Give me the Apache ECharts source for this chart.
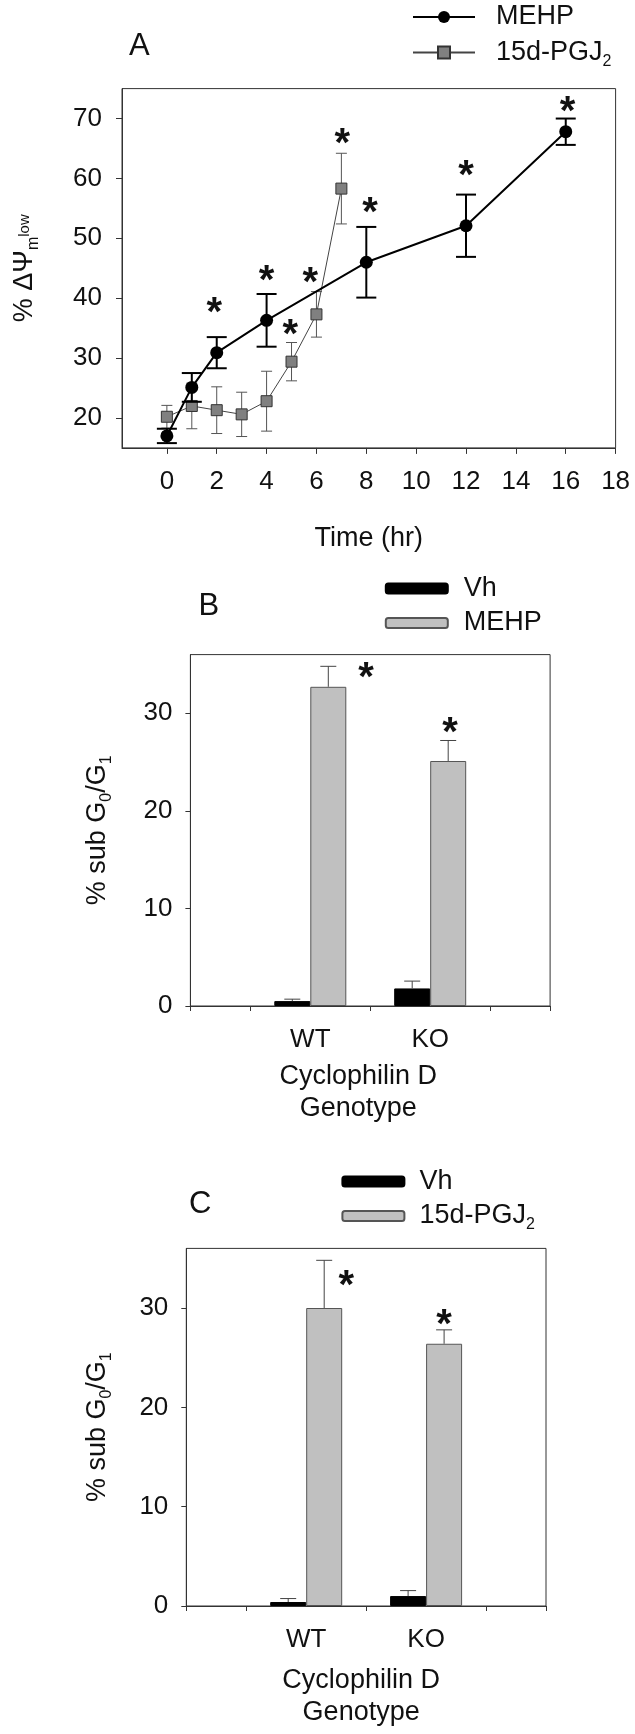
<!DOCTYPE html>
<html><head><meta charset="utf-8">
<script src="https://cdn.jsdelivr.net/npm/echarts@6/dist/echarts.min.js"></script>
<style>
html,body{margin:0;padding:0;background:#fff;}
.p{position:absolute;left:0;width:635px;}
#a{top:0;height:560px}
#b{top:560px;height:570px}
#c{top:1130px;height:604px}
</style>
</head><body>
<div id="a" class="p"></div><div id="b" class="p"></div><div id="c" class="p"></div>
<script>
// ---------- Panel A data ----------
const timeMEHP = [0, 1, 2, 4, 8, 12, 16];
const valMEHP  = [17.0, 25.1, 30.9, 36.3, 46.0, 52.1, 67.8];
const errMEHP  = [1.2, 2.4, 2.6, 4.4, 5.9, 5.2, 2.2];
const timePGJ  = [0, 1, 2, 3, 4, 5, 6, 7];
const valPGJ   = [20.2, 22.0, 21.3, 20.6, 22.8, 29.4, 37.3, 58.3];
const errPGJ   = [1.9, 3.8, 3.9, 3.7, 5.0, 3.2, 3.8, 5.9];
const starsA   = [[1.9, 38.9], [4.0, 44.2], [8.15, 55.6], [12.0, 61.8], [16.07, 72.5], [4.95, 35.3], [5.75, 43.9], [7.04, 67.2]];
const xTicksA  = [0, 2, 4, 6, 8, 10, 12, 14, 16, 18];
const yTicksA  = [20, 30, 40, 50, 60, 70];

// ---------- Panels B / C data ----------
const genotypes   = ['WT', 'KO'];
const genotypePos = [2, 4];
const barTicks    = [0, 1, 3, 5, 6];
const yTicksBar   = [0, 10, 20, 30];
const vhB      = [0.5, 1.8];
const vhErrB   = [0.2, 0.75];
const mehpB    = [32.7, 25.1];
const mehpErrB = [2.1, 2.1];
const starsB   = [[2.93, 34.4], [4.33, 28.8]];
const vhC      = [0.4, 1.0];
const vhErrC   = [0.35, 0.55];
const pgjC     = [30.0, 26.4];
const pgjErrC  = [4.8, 1.4];
const starsC   = [[2.67, 33.0], [4.3, 29.1]];

const FONT = 'Liberation Sans, Arial, Helvetica, sans-serif';
const AX = '#333';
const TXT = '#111';
const subRich = {
  sub: {fontSize: 16, lineHeight: 12, verticalAlign: 'bottom', fontFamily: FONT, color: TXT},
  sup: {fontSize: 15, verticalAlign: 'middle', fontFamily: FONT, color: TXT}
};
function fmtSub(name) {
  return name === '15d-PGJ2' ? '15d-PGJ{sub|2}' : name;
}

function errorBars(xs, vals, errs, o) {
  return {
    type: 'custom',
    z: o.z || 3,
    data: xs.map((x, i) => [x, o.upperOnly ? vals[i] : vals[i] - errs[i], vals[i] + errs[i]]),
    encode: {x: 0, y: [1, 2]},
    renderItem: function (params, api) {
      const x = api.value(0), lo = api.value(1), hi = api.value(2);
      const p1 = api.coord([x, hi]), p2 = api.coord([x, lo]);
      const px = p1[0] + (o.offset || 0), hw = o.cap / 2;
      const st = {stroke: o.color, lineWidth: o.width, fill: null};
      const ch = [
        {type: 'line', shape: {x1: px, y1: p1[1], x2: px, y2: p2[1]}, style: st},
        {type: 'line', shape: {x1: px - hw, y1: p1[1], x2: px + hw, y2: p1[1]}, style: st}
      ];
      if (!o.upperOnly) ch.push({type: 'line', shape: {x1: px - hw, y1: p2[1], x2: px + hw, y2: p2[1]}, style: st});
      return {type: 'group', children: ch};
    }
  };
}
function stars(points, size) {
  return {
    type: 'custom', z: 5,
    data: points,
    encode: {x: 0, y: 1},
    renderItem: function (params, api) {
      const p = api.coord([api.value(0), api.value(1)]);
      return {type: 'text', x: p[0], y: p[1] + size * 0.23,
        style: {text: '*', fontSize: size, fontWeight: 'bold', fontFamily: FONT, fill: TXT, align: 'center', verticalAlign: 'middle'}};
    }
  };
}

// ---------- Panel A ----------
const chartA = echarts.init(document.getElementById('a'));
chartA.setOption({
  animation: false,
  textStyle: {fontFamily: FONT},
  title: {text: 'A', left: 129, top: 31, padding: 0,
    textStyle: {fontSize: 31, fontWeight: 'normal', color: TXT, fontFamily: FONT, lineHeight: 30}},
  legend: {
    orient: 'vertical', left: 412, top: 0, padding: 0, itemWidth: 62, itemHeight: 15, itemGap: 1.5,
    data: ['MEHP', '15d-PGJ2'], formatter: fmtSub,
    textStyle: {fontSize: 27, lineHeight: 34, color: TXT, fontFamily: FONT, padding: [0, 0, 0, 16], rich: subRich}
  },
  grid: {left: 116.6, top: 88.6, width: 499, height: 359.3, show: true, borderColor: AX, borderWidth: 1},
  xAxis: {
    type: 'value', min: -1.8, max: 18, splitLine: {show: false},
    axisLine: {onZero: false, lineStyle: {color: AX}},
    axisTick: {customValues: xTicksA, length: 6, lineStyle: {color: AX}},
    axisLabel: {customValues: xTicksA, fontSize: 26, color: TXT, margin: 21, fontFamily: FONT},
    name: 'Time (hr)', nameLocation: 'middle', nameGap: 77,
    nameTextStyle: {fontSize: 27, color: TXT, fontFamily: FONT}
  },
  yAxis: {
    type: 'value', min: 15, max: 75, splitLine: {show: false},
    axisLine: {onZero: false, lineStyle: {color: AX}},
    axisTick: {customValues: yTicksA, length: 6, lineStyle: {color: AX}},
    axisLabel: {customValues: yTicksA, fontSize: 26, color: TXT, margin: 20, fontFamily: FONT},
    name: '% \u0394\u03A8{sub|m}{sup|low}', nameLocation: 'middle', nameRotate: 90, nameGap: 80,
    nameTextStyle: {fontSize: 27, lineHeight: 34, color: TXT, fontFamily: FONT, rich: subRich}
  },
  series: [
    errorBars(timePGJ, valPGJ, errPGJ, {color: '#555', width: 1, cap: 11, z: 2}),
    {type: 'line', name: '15d-PGJ2', z: 3, data: timePGJ.map((t, i) => [t, valPGJ[i]]),
      symbol: 'rect', symbolSize: 11,
      itemStyle: {color: '#808080', borderColor: '#333', borderWidth: 1},
      lineStyle: {color: '#444', width: 1}},
    errorBars(timeMEHP, valMEHP, errMEHP, {color: '#000', width: 2, cap: 20, z: 4}),
    {type: 'line', name: 'MEHP', z: 4, data: timeMEHP.map((t, i) => [t, valMEHP[i]]),
      symbol: 'circle', symbolSize: 13,
      itemStyle: {color: '#000'}, lineStyle: {color: '#000', width: 2}},
    stars(starsA, 40)
  ]
});

// ---------- Bar panels ----------
function barPanel(id, c) {
  const ch = echarts.init(document.getElementById(id));
  ch.setOption({
    animation: false,
    textStyle: {fontFamily: FONT},
    title: {text: c.letter, left: c.letterX, top: c.letterY, padding: 0,
      textStyle: {fontSize: 31, fontWeight: 'normal', color: TXT, fontFamily: FONT, lineHeight: 30}},
    legend: {
      orient: 'vertical', left: c.legX, top: c.legY, padding: 0, itemWidth: 62, itemHeight: 10, itemGap: 0.4,
      data: ['Vh', c.treat], formatter: fmtSub,
      textStyle: {fontSize: 27, lineHeight: 34, color: TXT, fontFamily: FONT, padding: [0, 0, 0, c.legPad], rich: subRich}
    },
    grid: {left: c.gl, top: c.gt, width: 359.7, height: 359.9, show: true, borderColor: AX, borderWidth: 1},
    xAxis: {
      type: 'value', min: 0, max: 6, splitLine: {show: false},
      axisLine: {onZero: false, lineStyle: {color: AX}},
      axisTick: {customValues: barTicks, length: 5, lineStyle: {color: AX}},
      axisLabel: {customValues: genotypePos, fontSize: 26, color: TXT, margin: 21, fontFamily: FONT,
        formatter: v => genotypes[genotypePos.indexOf(v)]},
      name: 'Cyclophilin D\nGenotype', nameLocation: 'middle', nameGap: c.nameGap,
      nameTextStyle: {fontSize: 27, lineHeight: 32, color: TXT, fontFamily: FONT, padding: [0, c.namePad, 0, 0]}
    },
    yAxis: {
      type: 'value', min: 0, max: 36, splitLine: {show: false},
      axisLine: {onZero: false, lineStyle: {color: AX}},
      axisTick: {customValues: yTicksBar, length: 5, lineStyle: {color: AX}},
      axisLabel: {customValues: yTicksBar, fontSize: 26, color: TXT, margin: 18, fontFamily: FONT},
      name: '% sub G{sub|0}/G{sub|1}', nameLocation: 'middle', nameRotate: 90, nameGap: c.yNameGap,
      nameTextStyle: {fontSize: 27, lineHeight: 34, color: TXT, fontFamily: FONT, rich: subRich}
    },
    series: [
      {type: 'bar', name: 'Vh', barWidth: 36, barGap: '0%',
        data: genotypePos.map((x, i) => [x, c.vh[i]]),
        itemStyle: {color: '#000', borderColor: '#000', borderWidth: 1}},
      {type: 'bar', name: c.treat, barWidth: 36, barGap: '0%',
        data: genotypePos.map((x, i) => [x, c.tr[i]]),
        itemStyle: {color: '#c0c0c0', borderColor: '#555', borderWidth: 1}},
      errorBars(genotypePos, c.vh, c.vhErr, {color: '#444', width: 1, cap: 16, offset: -18, upperOnly: true}),
      errorBars(genotypePos, c.tr, c.trErr, {color: '#444', width: 1, cap: 16, offset: 18, upperOnly: true}),
      stars(c.stars, 40)
    ]
  });
}
barPanel('b', {letter: 'B', letterX: 198.6, letterY: 31.4, legX: 384.8, legY: 11.6, legPad: 11,
  gl: 190.4, gt: 94.6, nameGap: 55, namePad: 24, yNameGap: 76, treat: 'MEHP',
  vh: vhB, vhErr: vhErrB, tr: mehpB, trErr: mehpErrB, stars: starsB});
barPanel('c', {letter: 'C', letterX: 188.9, letterY: 59, legX: 341.4, legY: 34.5, legPad: 10,
  gl: 186.3, gt: 118.4, nameGap: 59, namePad: 10, yNameGap: 72, treat: '15d-PGJ2',
  vh: vhC, vhErr: vhErrC, tr: pgjC, trErr: pgjErrC, stars: starsC});
</script>
</body></html>
